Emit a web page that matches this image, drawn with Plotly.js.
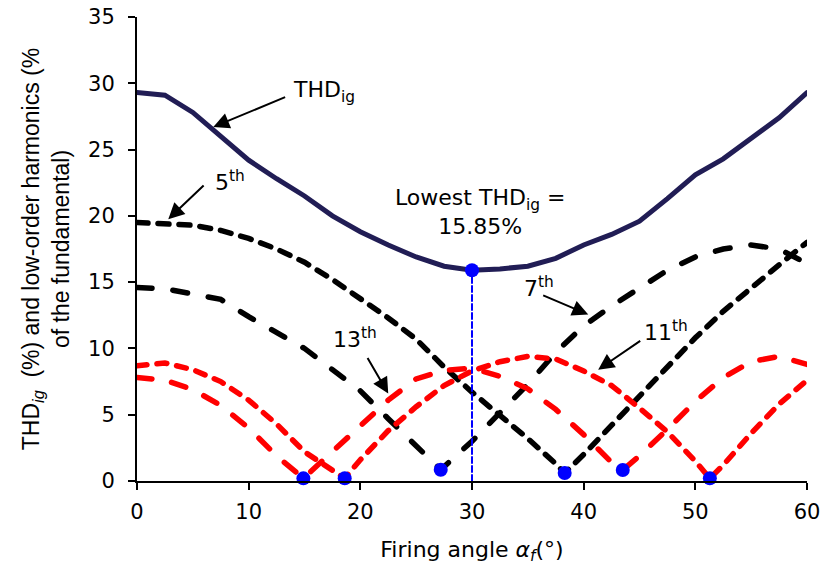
<!DOCTYPE html>
<html>
<head>
<meta charset="utf-8">
<script src="https://cdn.plot.ly/plotly-3.0.1.min.js"></script>
<style>
html,body{margin:0;padding:0;background:#fff;}
#chart{width:823px;height:571px;}
.js-line{stroke-linecap:round;}
</style>
</head>
<body>
<div id="chart"></div>
<script>
// Firing angle (degrees) and values (% of fundamental)
const thdAngle = [0, 2.5, 5, 7.5, 10, 12.5, 15, 17.5, 20, 22.5, 25, 27.5, 30, 32.5, 35, 37.5, 40, 42.5, 45, 47.5, 50, 52.5, 55, 57.5, 60];
const thdValue = [29.3, 29.1, 27.8, 26.0, 24.2, 22.8, 21.5, 20.0, 18.8, 17.8, 16.9, 16.2, 15.9, 16.0, 16.2, 16.8, 17.8, 18.6, 19.6, 21.3, 23.1, 24.3, 25.8, 27.4, 29.3];

const h5Angle = [0, 2.5, 5, 7.5, 10, 12.5, 15, 17.5, 20, 22.5, 25, 27.5, 30, 32.5, 35, 37.5, 38.3, 40, 42.5, 45, 47.5, 50, 52.5, 55, 57.5, 60];
const h5Value = [19.5, 19.45, 19.3, 18.9, 18.3, 17.5, 16.5, 15.2, 13.8, 12.3, 10.7, 8.6, 6.7, 5.0, 3.2, 1.3, 0.6, 2.0, 4.2, 6.4, 8.7, 10.8, 12.8, 14.6, 16.3, 18.0];

const h7Angle = [0, 2.5, 5, 7.5, 10, 12.5, 15, 17.5, 20, 22.5, 25, 27.2, 30, 32.5, 35, 37.5, 40, 42.5, 45, 47.5, 50, 52.5, 55, 57.5, 60];
const h7Value = [14.6, 14.5, 14.1, 13.7, 12.4, 11.2, 10.0, 8.4, 6.8, 4.7, 2.6, 0.85, 3.0, 5.1, 7.3, 9.7, 11.7, 13.2, 14.6, 15.9, 16.9, 17.5, 17.8, 17.5, 16.4];

const h11Angle = [0, 2.5, 5, 7.5, 10, 12.5, 15, 17.5, 18.6, 20, 22.5, 25, 27.5, 30, 32.5, 35, 37.5, 40, 42.5, 45, 47.5, 50, 51.3, 52.5, 55, 57.5, 60];
const h11Value = [8.7, 8.9, 8.4, 7.5, 6.1, 4.3, 2.2, 0.8, 0.2, 1.6, 3.8, 5.6, 7.2, 8.3, 9.0, 9.4, 9.2, 8.3, 7.2, 5.5, 3.7, 1.5, 0.2, 1.2, 3.6, 5.8, 7.6];

const h13Angle = [0, 2.5, 5, 7.5, 10, 12.5, 14.9, 17.5, 20, 22.5, 25, 27.5, 30, 32.5, 35, 37.5, 40, 42.5, 43.5, 45, 47.5, 50, 52.5, 55, 57.5, 60];
const h13Value = [7.8, 7.6, 6.9, 5.7, 4.0, 1.9, 0.2, 2.2, 4.2, 6.1, 7.7, 8.35, 8.5, 7.9, 6.95, 5.4, 3.5, 1.4, 0.83, 1.9, 3.9, 6.0, 7.8, 9.0, 9.4, 8.8];

// Marked minima
const minAngle = [14.9, 18.6, 27.2, 30, 38.3, 43.5, 51.3];
const minValue = [0.2, 0.2, 0.85, 15.9, 0.6, 0.83, 0.2];

// Vertical guide at lowest THD
const guideAngle = [30, 30];
const guideValue = [0, 15.9];

const FONT = 'Liberation Sans, Arial, sans-serif';
const WIDE = 'DejaVu Sans, Liberation Sans, sans-serif';

const traces = [
  {x: thdAngle, y: thdValue, mode: 'lines', name: 'THDig', line: {color: '#211d55', width: 5}},
  {x: h5Angle, y: h5Value, mode: 'lines', name: '5th', line: {color: '#000', width: 5.5, dash: '11px,10px'}},
  {x: h7Angle, y: h7Value, mode: 'lines', name: '7th', line: {color: '#000', width: 5.5, dash: '15px,21px'}},
  {x: h11Angle, y: h11Value, mode: 'lines', name: '11th', line: {color: '#ff0000', width: 5.5, dash: '10px,10px'}},
  {x: h13Angle, y: h13Value, mode: 'lines', name: '13th', line: {color: '#ff0000', width: 5.5, dash: '15px,20px'}},
  {x: guideAngle, y: guideValue, mode: 'lines', name: 'guide', line: {color: '#0000ff', width: 2, dash: '6px,3px'}},
  {x: minAngle, y: minValue, mode: 'markers', name: 'minima', cliponaxis: false, marker: {color: '#0000ff', size: 14}}
];

function arrow(x0, y0, x1, y1) {
  return {x: x1, y: y1, ax: x0, ay: y0, xref: 'x', yref: 'y', axref: 'x', ayref: 'y',
          text: '', showarrow: true, arrowhead: 2, arrowsize: 1.6, arrowwidth: 2, arrowcolor: '#000', standoff: 0, startstandoff: 0};
}
function label(x, y, txt, anchor) {
  return {x: x, y: y, xref: 'x', yref: 'y', text: txt, showarrow: false, xanchor: anchor || 'left', yanchor: 'middle',
          font: {family: WIDE, size: 22, color: '#000'}};
}

const annotations = [
  arrow(13.4, 29.0, 6.83, 26.7),
  label(13.8, 29.35, 'THD<sub>ig</sub>'),
  arrow(6.1, 22.4, 2.8, 19.75),
  label(6.8, 22.6, '5<sup>th</sup>'),
  {x: 30.7, y: 20.3, xref: 'x', yref: 'y', text: 'Lowest THD<sub>ig</sub> =<br>15.85%', showarrow: false,
   xanchor: 'center', yanchor: 'middle', align: 'center', font: {family: WIDE, size: 22, color: '#000'}},
  arrow(20.57, 9.4, 22.5, 6.6),
  label(17.4, 10.8, '13<sup>th</sup>'),
  arrow(36.24, 14.05, 40.41, 12.56),
  label(34.5, 14.6, '7<sup>th</sup>'),
  arrow(45.2, 10.65, 41.3, 8.4),
  label(45.2, 11.3, '11<sup>th</sup>')
];

const layout = {
  width: 823, height: 571,
  margin: {l: 137, r: 16, t: 17, b: 90},
  paper_bgcolor: '#fff', plot_bgcolor: '#fff',
  showlegend: false,
  font: {family: FONT, color: '#000'},
  xaxis: {
    range: [0, 60], tickvals: [0, 10, 20, 30, 40, 50, 60], ticktext: ['0', '10', '20', '30', '40', '50', '60'],
    showgrid: false, zeroline: false, showline: true, linecolor: '#000', linewidth: 2,
    ticks: 'outside', ticklen: 7, tickwidth: 2, tickcolor: '#000', ticklabelstandoff: 4,
    tickfont: {family: WIDE, size: 21, color: '#000'},
    title: {text: 'Firing angle <i>α<sub>f</sub></i>(°)', font: {family: WIDE, size: 22, color: '#000'}, standoff: 18}
  },
  yaxis: {
    range: [0, 35], tickvals: [0, 5, 10, 15, 20, 25, 30, 35], ticktext: ['0', '5', '10', '15', '20', '25', '30', '35'],
    showgrid: false, zeroline: false, showline: true, linecolor: '#000', linewidth: 2,
    ticks: 'outside', ticklen: 7, tickwidth: 2, tickcolor: '#000', ticklabelstandoff: 9,
    tickfont: {family: WIDE, size: 21, color: '#000'},
    title: {text: 'THD<sub><i>ig</i></sub>  (%) and low-order harmonics (%<br>of the fundamental)', font: {family: FONT, size: 23, color: '#000'}, standoff: 12}
  },
  annotations: annotations
};

Plotly.newPlot('chart', traces, layout, {displayModeBar: false, staticPlot: true});
</script>
</body>
</html>
